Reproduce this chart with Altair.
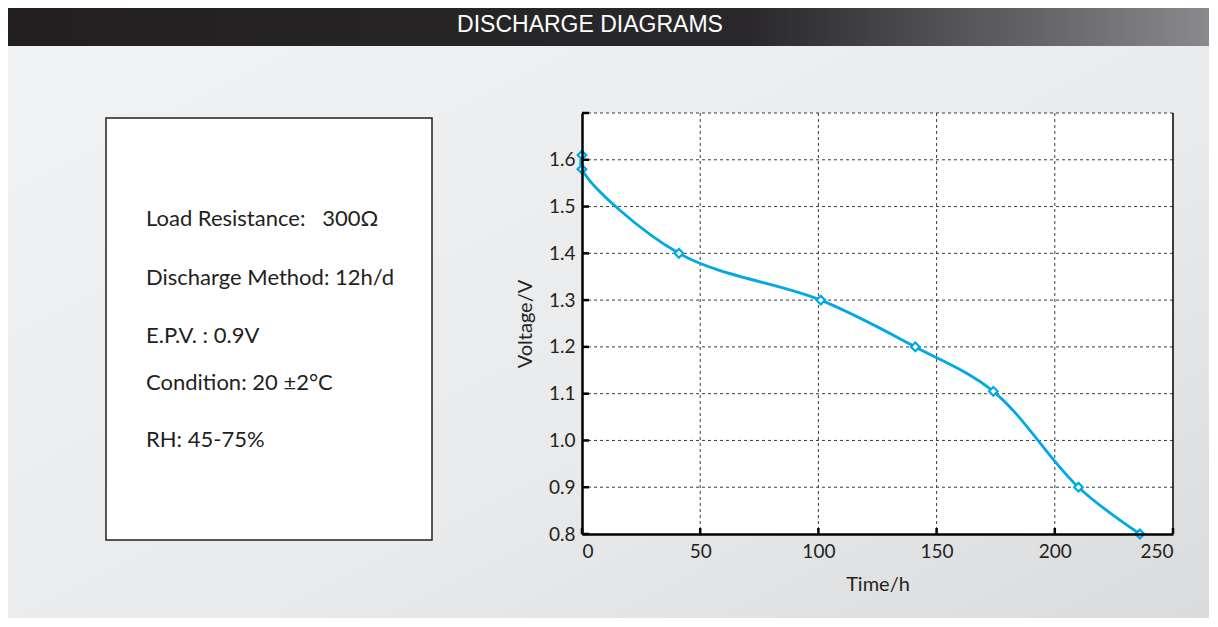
import altair as alt
import pandas as pd

# ---------------- data ----------------
time_h = [0, 0, 41, 101, 141, 174, 210, 236]
voltage = [1.61, 1.58, 1.40, 1.30, 1.20, 1.105, 0.90, 0.80]

y_ticks = [0.8, 0.9, 1.0, 1.1, 1.2, 1.3, 1.4, 1.5, 1.6]
x_ticks = [0, 50, 100, 150, 200, 250]
y_grid = [0.9, 1.0, 1.1, 1.2, 1.3, 1.4, 1.5, 1.6, 1.7]
x_grid = [50, 100, 150, 200]

header_text = "DISCHARGE DIAGRAMS"
NB = "\u00a0"
info_lines = [
    "Load Resistance:" + NB * 3 + "300\u03a9",
    "Discharge Method: 12h/d",
    "E.P.V. : 0.9V",
    "Condition: 20 \u00b12\u00b0C",
    "RH: 45-75%",
]

# ---------------- layout ----------------
W, H = 591, 421
PAD = {"left": 574, "top": 105, "right": 36, "bottom": 84}
info_baselines = [113, 172, 230, 277, 334]

FONT = "Lato"
TXT = "#231f20"
BLUE = "#00a8e6"

xscale = alt.Scale(domain=[0, 250], nice=False, zero=False)
yscale = alt.Scale(domain=[0.8, 1.7], nice=False, zero=False)

xaxis = alt.Axis(
    values=x_ticks, title="Time/h", grid=False, ticks=False, tickSize=0,
    labelPadding=8, labelFont=FONT, labelFontSize=19, labelColor=TXT,
    titleFont=FONT, titleFontSize=20, titleFontWeight="normal", titleColor=TXT,
    titlePadding=13, domainColor="black", domainWidth=2.5, zindex=1)
yaxis = alt.Axis(
    values=y_ticks, format=".1f", title="Voltage/V", grid=False, ticks=False,
    tickSize=0, labelPadding=7, labelFont=FONT, labelFontSize=19, labelColor=TXT,
    titleFont=FONT, titleFontSize=20, titleFontWeight="normal", titleColor=TXT,
    titlePadding=13, domainColor="black", domainWidth=2.5, zindex=1)

one = pd.DataFrame({"k": [0]})
df = pd.DataFrame({"t": time_h, "V": voltage, "i": list(range(len(time_h)))})

# page background gradient
bg = alt.Chart(one).mark_rect(
    color=alt.LinearGradient(
        gradient="linear",
        stops=[alt.GradientStop(color="#f2f3f5", offset=0),
               alt.GradientStop(color="#e9eaec", offset=0.6),
               alt.GradientStop(color="#dadbdd", offset=1)],
        x1=0, x2=1, y1=0, y2=1,
    )
).encode(x=alt.value(-PAD["left"]), x2=alt.value(W + PAD["right"]),
         y=alt.value(-PAD["top"]), y2=alt.value(H + PAD["bottom"]))

header = alt.Chart(one).mark_rect(
    color=alt.LinearGradient(
        gradient="linear",
        stops=[alt.GradientStop(color="#231f20", offset=0),
               alt.GradientStop(color="#2a282b", offset=0.62),
               alt.GradientStop(color="#88898c", offset=1)],
        x1=0, x2=1, y1=0, y2=0,
    )
).encode(x=alt.value(-PAD["left"]), x2=alt.value(W + PAD["right"]),
         y=alt.value(-PAD["top"]), y2=alt.value(-67))

header_txt = alt.Chart(one).mark_text(
    text=header_text, font="Liberation Sans", fontSize=23, color="white",
    align="center", baseline="middle"
).encode(x=alt.value(8), y=alt.value(-88))

box = alt.Chart(one).mark_rect(fill="white", stroke=TXT, strokeWidth=1.5).encode(
    x=alt.value(-476), x2=alt.value(-150), y=alt.value(5), y2=alt.value(427))

info_layers = []
for line_txt, yb in zip(info_lines, info_baselines):
    info_layers.append(
        alt.Chart(one).mark_text(text=line_txt, font=FONT, fontSize=22, color=TXT,
                                 align="left", baseline="alphabetic")
        .encode(x=alt.value(-436), y=alt.value(yb))
    )

plot_bg = alt.Chart(one).mark_rect(fill="white").encode(
    x=alt.value(0), x2=alt.value(W), y=alt.value(0), y2=alt.value(H))

hgrid = alt.Chart(pd.DataFrame({"V": y_grid})).mark_rule(
    color="#3c3c3c", strokeWidth=1, strokeDash=[3, 3]
).encode(y=alt.Y("V:Q", scale=yscale, axis=yaxis), x=alt.value(0), x2=alt.value(W))

vgrid = alt.Chart(pd.DataFrame({"t": x_grid})).mark_rule(
    color="#3c3c3c", strokeWidth=1, strokeDash=[3, 3]
).encode(x=alt.X("t:Q", scale=xscale, axis=xaxis), y=alt.value(0), y2=alt.value(H))

right_border = alt.Chart(pd.DataFrame({"t": [250]})).mark_rule(
    color="black", strokeWidth=1.5
).encode(x=alt.X("t:Q", scale=xscale, axis=xaxis), y=alt.value(0), y2=alt.value(H))

yt = alt.Chart(pd.DataFrame({"V": y_ticks + [1.7]})).mark_rule(
    color="black", strokeWidth=2.5
).encode(y=alt.Y("V:Q", scale=yscale, axis=yaxis), x=alt.value(0), x2=alt.value(7))

xt = alt.Chart(pd.DataFrame({"t": x_ticks})).mark_rule(
    color="black", strokeWidth=2.5
).encode(x=alt.X("t:Q", scale=xscale, axis=xaxis), y=alt.value(H), y2=alt.value(H - 6))

line = alt.Chart(df).mark_line(
    interpolate="catmull-rom", color=BLUE, strokeWidth=2.8
).encode(
    x=alt.X("t:Q", scale=xscale, axis=xaxis),
    y=alt.Y("V:Q", scale=yscale, axis=yaxis),
    order=alt.Order("i:Q"),
)

points = alt.Chart(df).mark_point(
    shape="diamond", fill="white", stroke=BLUE, strokeWidth=2.2, size=75, opacity=1
).encode(x=alt.X("t:Q", scale=xscale, axis=xaxis),
         y=alt.Y("V:Q", scale=yscale, axis=yaxis))

chart = alt.layer(
    bg, header, header_txt, box, *info_layers, plot_bg, hgrid, vgrid,
    right_border, yt, xt, line, points
).properties(
    width=W, height=H, padding=PAD,
    autosize=alt.AutoSizeParams(type="none"),
    background="#eeeff1",
).configure_view(stroke=None)

chart.save("out.html", embed_options={"renderer": "svg", "actions": False})
